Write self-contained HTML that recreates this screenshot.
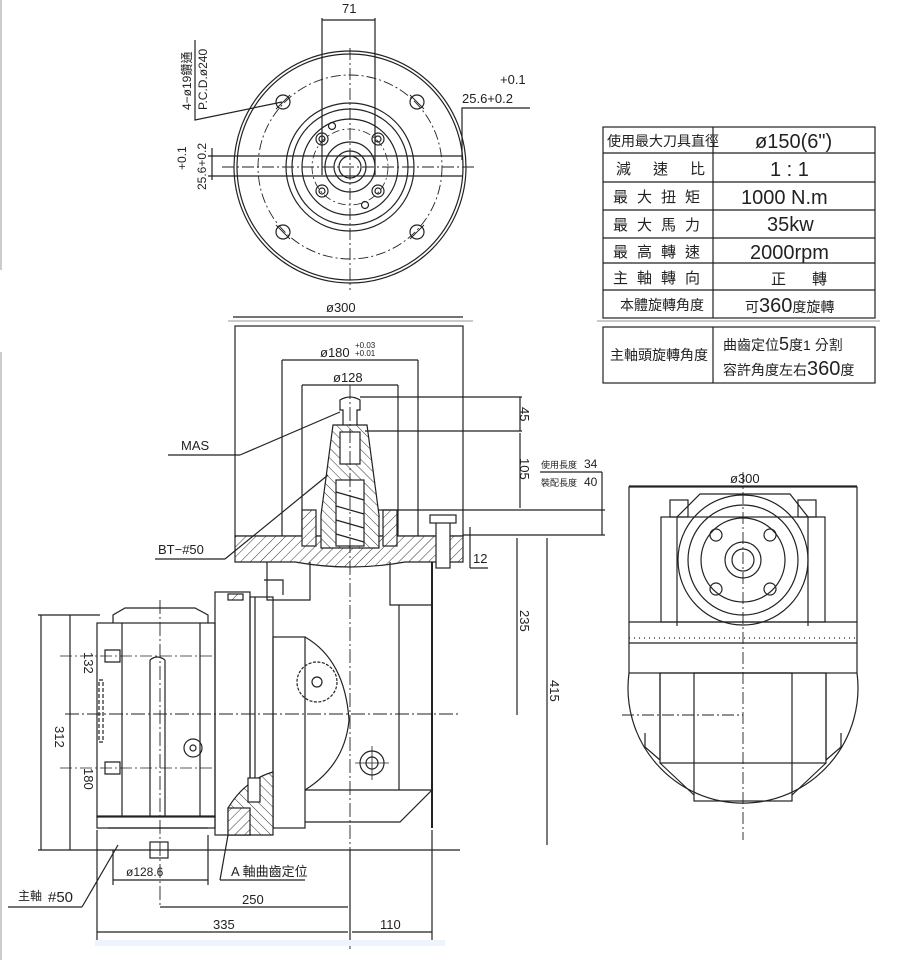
<!DOCTYPE html>
<html><head><meta charset="utf-8"><style>
html,body{margin:0;padding:0;background:#fff;}
svg{display:block}
text{font-family:"Liberation Sans","Noto Sans CJK TC",sans-serif;fill:#222;}
.t{font-family:"Liberation Sans","Noto Sans CJK TC",sans-serif;}
</style></head><body>
<svg width="918" height="978" viewBox="0 0 918 978" xmlns="http://www.w3.org/2000/svg">
<defs>
<pattern id="h" patternUnits="userSpaceOnUse" width="7" height="7" patternTransform="rotate(45)">
<rect width="7" height="7" fill="#fff"/><line x1="0" y1="0" x2="0" y2="7" stroke="#333" stroke-width="1"/>
</pattern>
<pattern id="h2" patternUnits="userSpaceOnUse" width="7" height="7" patternTransform="rotate(-45)">
<rect width="7" height="7" fill="#fff"/><line x1="0" y1="0" x2="0" y2="7" stroke="#333" stroke-width="1"/>
</pattern>
</defs>
<rect width="918" height="978" fill="#fff"/>
<g stroke="#999" stroke-width="1"><line x1="1" y1="0" x2="1" y2="270"/><line x1="1" y1="352" x2="1" y2="960"/></g>

<g fill="none" stroke="#222" stroke-width="1.2">
<!-- ===== TOP VIEW ===== -->
<circle cx="350" cy="167" r="116"/>
<circle cx="350" cy="167" r="113"/>
<circle cx="350" cy="167" r="92" stroke-dasharray="10 3 2 3" stroke-width="0.9"/>
<circle cx="350" cy="167" r="64"/>
<circle cx="350" cy="167" r="58"/>
<circle cx="350" cy="167" r="48"/>
<circle cx="350" cy="167" r="25"/>
<circle cx="350" cy="167" r="16"/>
<circle cx="350" cy="167" r="11"/>
<circle cx="350" cy="167" r="38" stroke-dasharray="8 3 2 3" stroke-width="0.8"/>
<g>
<circle cx="283" cy="102" r="7"/><circle cx="417" cy="102" r="7"/>
<circle cx="283" cy="232" r="7"/><circle cx="417" cy="232" r="7"/>
<path d="M276 109 L290 95 M410 95 L424 109 M276 225 L290 239 M410 239 L424 225" stroke-width="0.9"/>
<circle cx="322" cy="139" r="6"/><circle cx="378" cy="139" r="6"/>
<circle cx="322" cy="191" r="6"/><circle cx="378" cy="191" r="6"/>
<circle cx="322" cy="139" r="3"/><circle cx="378" cy="139" r="3"/>
<circle cx="322" cy="191" r="3"/><circle cx="378" cy="191" r="3"/>
<circle cx="332" cy="126" r="3.5"/><circle cx="365" cy="205" r="3.5"/>
</g>
<line x1="322" y1="18" x2="322" y2="175"/><line x1="375" y1="18" x2="375" y2="175"/>
<line x1="322" y1="20" x2="375" y2="20"/>
<line x1="208" y1="156" x2="462" y2="156"/><line x1="208" y1="176" x2="462" y2="176"/>
<line x1="350" y1="48" x2="350" y2="290" stroke-dasharray="12 3 2 3" stroke-width="0.9"/>
<line x1="222" y1="167" x2="475" y2="167" stroke-dasharray="12 3 2 3" stroke-width="0.9"/>
<line x1="212" y1="148" x2="212" y2="180"/>
<polyline points="462,160 462,108 530,108"/>
<polyline points="195,40 195,120 282,102"/>

<!-- ===== FRONT VIEW ===== -->
<line x1="233" y1="317" x2="463" y2="317"/>
<line x1="228" y1="321" x2="473" y2="321" stroke="#aaa"/>
<rect x="235" y="326" width="228" height="210"/>
<line x1="282" y1="360" x2="418" y2="360"/>
<line x1="282" y1="360" x2="282" y2="548"/><line x1="418" y1="360" x2="418" y2="548"/>
<line x1="302" y1="385" x2="398" y2="385"/>
<line x1="302" y1="385" x2="302" y2="545"/><line x1="398" y1="385" x2="398" y2="545"/>
<path d="M235 536 H463 V562 H405 Q350 572 295 562 H235 Z" fill="url(#h)"/>
<path d="M333 425 H367 L379 515 V548 H321 V515 Z" fill="url(#h2)"/>
<rect x="340" y="432" width="20" height="32" fill="#fff"/>
<rect x="336" y="480" width="28" height="66" fill="#fff"/>
<path d="M336 492 L364 500 M336 506 L364 514 M336 520 L364 528 M336 534 L364 542"/>
<path d="M343 425 V410 H340 V400 Q350 394 360 400 V410 H357 V425"/>
<line x1="350" y1="385" x2="350" y2="950" stroke-dasharray="14 3 2 3" stroke-width="0.9"/>
<rect x="302" y="510" width="14" height="36" fill="url(#h)"/>
<rect x="383" y="510" width="14" height="36" fill="url(#h)"/>
<rect x="436" y="520" width="14" height="48" fill="#fff"/>
<rect x="430" y="515" width="26" height="8" fill="#fff"/>
<line x1="360" y1="397" x2="522" y2="397"/><line x1="365" y1="431" x2="522" y2="431"/>
<line x1="520" y1="397" x2="520" y2="431"/><line x1="520" y1="433" x2="520" y2="508"/>
<line x1="378" y1="510" x2="605" y2="510"/>
<line x1="463" y1="535" x2="605" y2="535"/>
<line x1="540" y1="472" x2="602" y2="472"/><line x1="602" y1="472" x2="602" y2="535"/>
<line x1="470" y1="527" x2="470" y2="568"/><line x1="470" y1="568" x2="488" y2="568"/>
<line x1="517" y1="538" x2="517" y2="715"/><line x1="547" y1="538" x2="547" y2="845"/>
<path d="M267 562 V600 H310 V562"/>
<path d="M390 562 V605 H399 V790"/>
<path d="M399 605 H432"/>
<line x1="432" y1="562" x2="432" y2="828" stroke-width="2"/>
<path d="M264 580 H283 V595"/>
<!-- spindle head -->
<rect x="97" y="623" width="118" height="194"/>
<path d="M113 623 V615 L125 608 H195 L208 615 V623"/>
<rect x="97" y="816" width="118" height="12"/>
<path d="M108 828 H208"/>
<line x1="122" y1="623" x2="122" y2="816"/><line x1="200" y1="623" x2="200" y2="816"/>
<line x1="150" y1="660" x2="150" y2="816"/><line x1="165" y1="660" x2="165" y2="816"/>
<path d="M150 660 Q157 654 165 660"/>
<rect x="99" y="680" width="4" height="62" stroke-dasharray="4 2"/>
<rect x="215" y="592" width="35" height="243"/>
<rect x="228" y="594" width="15" height="6" fill="url(#h)"/>
<rect x="250" y="597" width="23" height="230"/>
<line x1="255" y1="597" x2="255" y2="790"/>
<rect x="273" y="637" width="32" height="191"/>
<path d="M305 637 Q345 660 349 720 Q345 765 305 790"/>
<path d="M305 790 H432 L400 822 H305"/>
<circle cx="317" cy="682" r="20" stroke-dasharray="3 1.5"/><circle cx="317" cy="682" r="5"/>
<circle cx="372" cy="763" r="12"/><circle cx="372" cy="763" r="6"/>
<path d="M355 763 H389 M372 746 V780" stroke-width="0.8"/>
<circle cx="193" cy="748" r="9"/><circle cx="193" cy="748" r="3"/>
<path d="M105 650 H120 V662 H105 Z M105 762 H120 V774 H105 Z"/>
<path d="M273 772 Q245 780 228 808 V835 H273 Z" fill="url(#h2)"/>
<rect x="228" y="808" width="22" height="27" fill="url(#h)"/>
<rect x="248" y="778" width="12" height="24" fill="#fff"/>
<line x1="60" y1="656" x2="215" y2="656" stroke-dasharray="12 3 2 3" stroke-width="0.8"/>
<line x1="60" y1="768" x2="215" y2="768" stroke-dasharray="12 3 2 3" stroke-width="0.8"/>
<line x1="65" y1="714" x2="460" y2="714" stroke-dasharray="14 3 2 3" stroke-width="0.9"/>
<line x1="160" y1="600" x2="160" y2="905" stroke-dasharray="14 3 2 3" stroke-width="0.9"/>
<rect x="150" y="842" width="18" height="16"/>
<line x1="38" y1="615" x2="100" y2="615"/>
<line x1="41" y1="615" x2="41" y2="850"/>
<line x1="70" y1="615" x2="70" y2="850"/>
<line x1="38" y1="850" x2="460" y2="850"/>
<line x1="97" y1="830" x2="97" y2="940"/><line x1="432" y1="830" x2="432" y2="940"/><line x1="350" y1="850" x2="350" y2="940"/>
<line x1="113" y1="850" x2="113" y2="885"/><line x1="208" y1="835" x2="208" y2="885"/>
<line x1="113" y1="880" x2="208" y2="880"/>
<line x1="220" y1="880" x2="305" y2="880"/><line x1="220" y1="880" x2="228" y2="835"/>
<line x1="160" y1="907" x2="348" y2="907"/>
<line x1="97" y1="932" x2="348" y2="932"/><line x1="352" y1="932" x2="432" y2="932"/>
<line x1="8" y1="907" x2="82" y2="907"/><line x1="82" y1="907" x2="118" y2="845"/>
<line x1="168" y1="455" x2="240" y2="455"/><line x1="240" y1="455" x2="340" y2="412"/>
<line x1="155" y1="559" x2="225" y2="559"/><line x1="225" y1="559" x2="328" y2="475"/>

<!-- ===== RIGHT VIEW ===== -->
<path d="M629 673 A115 115 0 1 0 857 673"/>
<rect x="629" y="487" width="228" height="186" fill="#fff"/>
<line x1="629" y1="622" x2="857" y2="622"/><line x1="629" y1="643" x2="857" y2="643"/>
<line x1="629" y1="638" x2="857" y2="638" stroke-dasharray="1 4"/>
<rect x="661" y="517" width="164" height="105"/>
<path d="M677 626 V517 L700 494 H790 L808 517 V626"/>
<circle cx="743" cy="560" r="65"/><circle cx="743" cy="560" r="55"/>
<circle cx="743" cy="560" r="42"/><circle cx="743" cy="560" r="18"/><circle cx="743" cy="560" r="11"/>
<circle cx="716" cy="535" r="6"/><circle cx="770" cy="535" r="6"/>
<circle cx="716" cy="589" r="6"/><circle cx="770" cy="589" r="6"/>
<rect x="670" y="500" width="18" height="17"/><rect x="798" y="500" width="18" height="17"/>
<path d="M660 673 V760 L645 747 V733 M826 673 V760 L841 747 V733"/>
<rect x="660" y="673" width="166" height="90"/>
<rect x="694" y="673" width="98" height="128"/>
<path d="M660 763 L694 795 M826 763 L792 795"/>
<line x1="743" y1="472" x2="743" y2="840" stroke-dasharray="12 3 2 3" stroke-width="0.9"/>
<line x1="622" y1="715" x2="743" y2="715" stroke-dasharray="12 3 2 3" stroke-width="0.9"/>
<line x1="629" y1="486" x2="857" y2="486"/>

<!-- ===== TABLE ===== -->
<rect x="603" y="127" width="272" height="191"/>
<line x1="713" y1="127" x2="713" y2="318"/>
<line x1="603" y1="153" x2="875" y2="153"/><line x1="603" y1="182" x2="875" y2="182"/>
<line x1="603" y1="210" x2="875" y2="210"/><line x1="603" y1="238" x2="875" y2="238"/>
<line x1="603" y1="263" x2="875" y2="263"/><line x1="603" y1="290" x2="875" y2="290"/>
<line x1="597" y1="321" x2="880" y2="321" stroke="#aaa"/>
<rect x="603" y="327" width="272" height="56"/>
<line x1="713" y1="327" x2="713" y2="383"/>
</g>

<g class="t" font-size="13">
<text x="342" y="13">71</text>
<text x="500" y="84">+0.1</text>
<text x="462" y="103">25.6+0.2</text>
<text transform="translate(191,110) rotate(-90)" font-size="12">4−ø19鑽通</text>
<text transform="translate(207,110) rotate(-90)" font-size="12">P.C.D.ø240</text>
<text transform="translate(186,170) rotate(-90)" font-size="12">+0.1</text>
<text transform="translate(206,190) rotate(-90)" font-size="12">25.6+0.2</text>
<text x="326" y="312">ø300</text>
<text x="320" y="357">ø180</text><text x="355" y="348" font-size="8">+0.03</text><text x="355" y="356" font-size="8">+0.01</text>
<text x="333" y="382">ø128</text>
<text x="181" y="450">MAS</text>
<text x="158" y="554">BT−#50</text>
<text transform="translate(520,407) rotate(90)">45</text>
<text transform="translate(520,458) rotate(90)">105</text>
<text x="541" y="468" font-size="9">使用長度</text><text x="584" y="468" font-size="12">34</text>
<text x="541" y="486" font-size="9">裝配長度</text><text x="584" y="486" font-size="12">40</text>
<text x="473" y="563">12</text>
<text transform="translate(520,610) rotate(90)">235</text>
<text transform="translate(550,680) rotate(90)">415</text>
<text transform="translate(84,652) rotate(90)">132</text>
<text transform="translate(84,768) rotate(90)">180</text>
<text transform="translate(55,726) rotate(90)">312</text>
<text x="126" y="876" font-size="12">ø128.6</text>
<text x="231" y="876">A 軸曲齒定位</text>
<text x="242" y="904">250</text>
<text x="213" y="929">335</text>
<text x="380" y="929">110</text>
<text x="18" y="900" font-size="12">主軸</text><text x="48" y="902" font-size="15">#50</text>
<text x="730" y="483">ø300</text>
</g>
<g class="t" fill="#222">
<text x="607" y="146" font-size="14">使用最大刀具直徑</text>
<text x="755" y="148" font-size="20">ø150(6")</text>
<text x="616" y="174" font-size="15" letter-spacing="22">減速比</text>
<text x="770" y="176" font-size="20">1 : 1</text>
<text x="613" y="202" font-size="15" letter-spacing="9">最大扭矩</text>
<text x="741" y="204" font-size="20">1000 N.m</text>
<text x="613" y="230" font-size="15" letter-spacing="9">最大馬力</text>
<text x="767" y="231" font-size="20">35kw</text>
<text x="613" y="257" font-size="15" letter-spacing="9">最高轉速</text>
<text x="750" y="259" font-size="20">2000rpm</text>
<text x="613" y="283" font-size="15" letter-spacing="9">主軸轉向</text>
<text x="771" y="284" font-size="15" letter-spacing="26">正轉</text>
<text x="620" y="310" font-size="14">本體旋轉角度</text>
<text x="745" y="312" font-size="14">可<tspan font-size="20">360</tspan>度旋轉</text>
<text x="610" y="360" font-size="14">主軸頭旋轉角度</text>
<text x="723" y="350" font-size="14">曲齒定位<tspan font-size="18">5</tspan>度1 分割</text>
<text x="723" y="375" font-size="14">容許角度左右<tspan font-size="20">360</tspan>度</text>
</g>
<rect x="95" y="940" width="350" height="6" fill="#eef4fb"/>
</svg>
</body></html>
